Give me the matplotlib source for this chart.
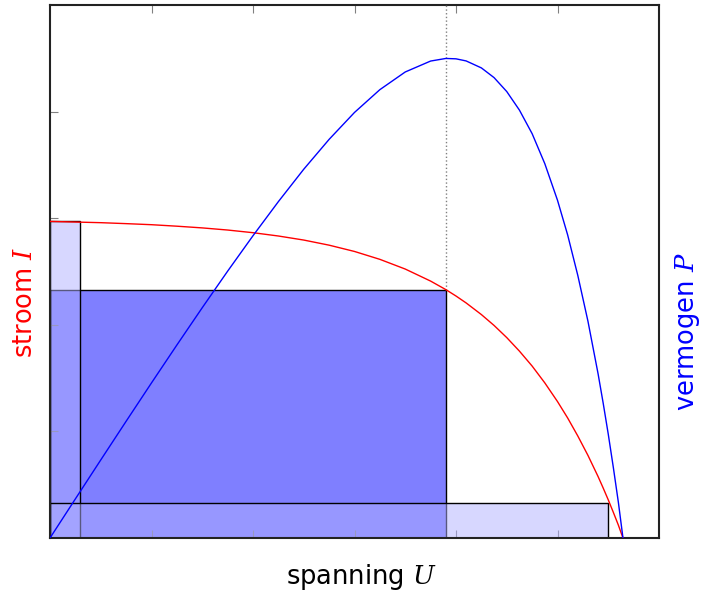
import numpy as np
import matplotlib
matplotlib.use("Agg")
import matplotlib.pyplot as plt
from matplotlib.patches import Rectangle

plt.rcParams['mathtext.fontset'] = 'dejavuserif'

# voltage samples (V) and current / power
voltage = [0.0, 0.25, 0.5, 0.75, 1.0, 1.25, 1.5, 1.75, 2.0, 2.25, 2.5, 2.75,
           3.0, 3.25, 3.5, 3.75, 3.9, 4.0, 4.1, 4.25, 4.375, 4.5, 4.625,
           4.75, 4.875, 5.0, 5.1, 5.2, 5.3, 5.4, 5.45, 5.5, 5.55, 5.6, 5.645]
current = [2.970, 2.964, 2.958, 2.949, 2.939, 2.925, 2.909, 2.889, 2.864,
           2.833, 2.795, 2.747, 2.688, 2.614, 2.523, 2.410, 2.330, 2.270,
           2.205, 2.096, 1.994, 1.880, 1.753, 1.613, 1.455, 1.280, 1.126,
           0.957, 0.775, 0.576, 0.469, 0.358, 0.241, 0.120, 0.0]
power = [0.0, 0.741, 1.479, 2.212, 2.939, 3.657, 4.364, 5.056, 5.728,
         6.374, 6.988, 7.554, 8.064, 8.496, 8.831, 9.038, 9.087, 9.080,
         9.040, 8.908, 8.724, 8.460, 8.108, 7.662, 7.093, 6.400, 5.743,
         4.976, 4.108, 3.110, 2.556, 1.969, 1.338, 0.672, 0.0]

# rectangles (U, I): near short circuit, maximum power point, near open circuit
u_low, i_low = 0.296, 2.97
u_mpp, i_mpp = 3.9, 2.33
u_high, i_high = 5.5, 0.33

fig = plt.figure(figsize=(7.02, 5.94), dpi=100)
ax = fig.add_axes([50 / 702, 56 / 594, 609 / 702, 533 / 594])
ax.set_xlim(0, 6)
ax.set_ylim(0, 5)

ax.add_patch(Rectangle((0, 0), u_mpp, i_mpp, facecolor=(0, 0, 1, 0.5),
                       edgecolor='black', lw=1, zorder=1))
for w, h in [(u_low, i_low), (u_high, i_high)]:
    ax.add_patch(Rectangle((0, 0), w, h, facecolor=(176 / 255, 176 / 255, 1, 0.5),
                           edgecolor='black', lw=1, zorder=2))

ax.plot([u_mpp, u_mpp], [i_mpp, 5], color='gray', ls=':', lw=1, zorder=3)
ax.plot(voltage, current, color='red', lw=1, zorder=4)

ax.set_xticks([1, 2, 3, 4, 5])
ax.set_yticks([1, 2, 3, 4])
ax.tick_params(direction='in', length=6, color='gray', top=True, right=True,
               labelbottom=False, labelleft=False)
for s in ax.spines.values():
    s.set_linewidth(1.5)
    s.set_color('#222222')

ax2 = ax.twinx()
ax2.set_ylim(0, 10.1)
ax2.plot(voltage, power, color='blue', lw=1, zorder=5)
ax2.set_yticks([])
for s in ax2.spines.values():
    s.set_visible(False)

fig.text(361 / 702, 1 - 577 / 594, 'spanning $U$', fontsize=18.5, ha='center', va='center')
fig.text(25 / 702, 1 - 302 / 594, 'stroom $I$', fontsize=18.5, color='red',
         rotation=90, ha='center', va='center')
fig.text(688 / 702, 1 - 332 / 594, 'vermogen $P$', fontsize=18.5, color='blue',
         rotation=90, ha='center', va='center')

fig.savefig('out.png', dpi=100)
